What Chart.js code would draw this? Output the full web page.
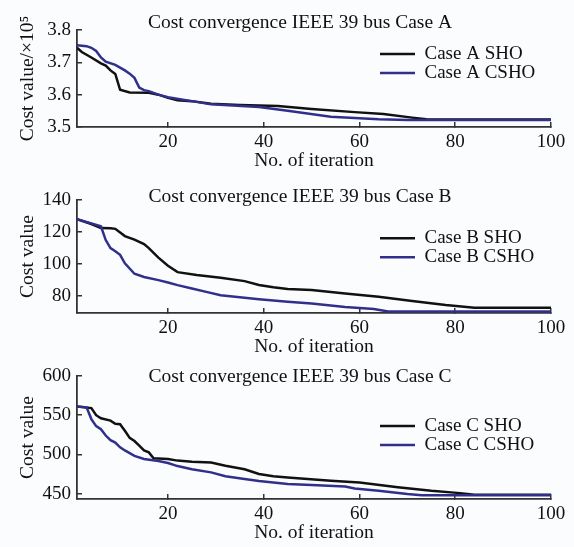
<!DOCTYPE html>
<html><head><meta charset="utf-8">
<script src="https://cdn.jsdelivr.net/npm/chart.js@4.4.1/dist/chart.umd.min.js"></script>
<style>
html,body{margin:0;padding:0;width:574px;height:547px;overflow:hidden;background:#fbfcfe;}
canvas{position:absolute;left:0;}
</style></head><body>
<canvas id="cA" width="600" height="182" style="top:0px"></canvas>
<canvas id="cB" width="600" height="194" style="top:170px"></canvas>
<canvas id="cC" width="600" height="201" style="top:346px"></canvas>
<script>
// ---- data ----
const xTickValues = [20, 40, 60, 80, 100];

const yTicksA = [3.5, 3.6, 3.7, 3.8];
const aShoIter = [1, 2, 4, 6, 7, 8, 9, 10, 12, 16, 18, 20, 22, 25, 29, 35, 43, 50, 59, 65, 71, 74, 78, 100];
const aShoCost = [3.745, 3.732, 3.715, 3.697, 3.690, 3.675, 3.664, 3.615, 3.607, 3.606, 3.600, 3.590, 3.583, 3.580, 3.572, 3.568, 3.565, 3.556, 3.546, 3.540, 3.529, 3.524, 3.523, 3.523];
const aCshoIter = [1, 3, 4, 5, 6, 7, 9, 11, 12, 13, 14, 15, 16, 18, 20, 25, 29, 39, 45, 54, 64, 70, 100];
const aCshoCost = [3.753, 3.750, 3.745, 3.735, 3.715, 3.702, 3.692, 3.675, 3.665, 3.652, 3.622, 3.614, 3.611, 3.600, 3.592, 3.580, 3.570, 3.562, 3.550, 3.532, 3.524, 3.522, 3.522];

const yTicksB = [80, 100, 120, 140];
const bShoIter = [1, 4, 6, 8, 9, 11, 13, 15, 16, 18, 20, 22, 26, 31, 36, 39, 42, 45, 50, 57, 64, 71, 78, 84, 100];
const bShoCost = [128, 125, 122.5, 122.3, 122, 117.5, 115.3, 112.5, 110, 104, 99, 95, 93.2, 91.5, 89.4, 87, 85.5, 84.5, 83.8, 81.7, 79.6, 77, 74.5, 72.8, 72.8];
const bCshoIter = [1, 4, 6, 7, 8, 9, 10, 11, 13, 15, 18, 20, 22, 25, 28, 31, 34, 39, 45, 50, 57, 63, 66, 100];
const bCshoCost = [128, 125.4, 123.6, 115, 110, 108, 105.8, 100.5, 94, 92, 90, 88.5, 86.9, 84.8, 82.7, 80.6, 79.6, 78.1, 76.5, 75.4, 73.3, 72, 70.5, 70.5];

const yTicksC = [450, 500, 550, 600];
const cShoIter = [1, 4, 5, 6, 8, 9, 10, 11, 12, 13, 14, 15, 16, 17, 20, 22, 25, 29, 32, 36, 39, 42, 45, 54, 60, 68, 75, 81, 84, 100];
const cShoCost = [561, 559, 550, 546, 543, 539, 538.5, 530, 521, 517, 511, 505, 502.5, 495, 494, 492, 490.5, 489.5, 485.5, 481, 475, 472, 470.5, 466.3, 464, 458, 453.5, 450.5, 448.5, 448.5];
const cCshoIter = [1, 3, 4, 5, 6, 7, 8, 9, 10, 11, 13, 15, 18, 20, 22, 25, 29, 32, 36, 39, 45, 50, 57, 59, 64, 70, 73, 100];
const cCshoCost = [561, 560, 545, 536, 532, 524, 518, 515, 509, 505, 498, 494, 491.5, 489, 485, 481, 477, 472, 468.5, 466, 462, 461, 459, 456.5, 453.5, 449.3, 447.8, 447.8];

// ---- styling / layout ----
const FONT = '"Liberation Serif", "Times New Roman", serif';
Chart.defaults.font.family = FONT;
Chart.defaults.color = '#111';
const axisColor = '#333';
const shoColor = '#111111';
const cshoColor = '#30308c';

const toPoints = (xs, ys) => xs.map((x, i) => ({x: x, y: ys[i]}));

const placeBoxes = {
  id: 'placeBoxes',
  afterLayout(chart, args, opts) {
    const t = chart.titleBlock;
    if (t) {
      const lh = t.height;
      t.left = opts.titleX - 250; t.right = opts.titleX + 250; t.width = 500;
      t.top = opts.titleY - lh / 2; t.bottom = t.top + lh;
    }
    const lg = chart.legend;
    if (lg) {
      lg.left = opts.legendX; lg.top = opts.legendY;
      lg.width = 200; lg.height = 90;
      lg.right = lg.left + 200; lg.bottom = lg.top + 90;
    }
  }
};

const panels = [
  {id: 'cA', title: 'Cost convergence IEEE 39 bus Case A', yTitle: 'Cost value/×10⁵',
   yMin: 3.5, yMax: 3.8, yTicks: yTicksA, fmt: v => v.toFixed(1),
   names: ['Case A SHO', 'Case A CSHO'], sho: [aShoIter, aShoCost], csho: [aCshoIter, aCshoCost],
   padBottom: 9, titleY: 23, legendY: 44.5},
  {id: 'cB', title: 'Cost convergence IEEE 39 bus Case B', yTitle: 'Cost value',
   yMin: 69.5, yMax: 140, yTicks: yTicksB, fmt: v => String(v),
   names: ['Case B SHO', 'Case B CSHO'], sho: [bShoIter, bShoCost], csho: [bCshoIter, bCshoCost],
   padBottom: 5, titleY: 27, legendY: 58.8},
  {id: 'cC', title: 'Cost convergence IEEE 39 bus Case C', yTitle: 'Cost value',
   yMin: 443, yMax: 600, yTicks: yTicksC, fmt: v => String(v),
   names: ['Case C SHO', 'Case C CSHO'], sho: [cShoIter, cShoCost], csho: [cCshoIter, cCshoCost],
   padBottom: 2, titleY: 31, legendY: 70.5}
];

const gridOpts = {display: true, drawOnChartArea: false, drawTicks: true, tickLength: -5, color: axisColor, lineWidth: 1.5};
const borderOpts = {display: true, color: axisColor, width: 1.8};

panels.forEach(p => {
  new Chart(document.getElementById(p.id), {
    type: 'line',
    data: {
      datasets: [
        {label: p.names[0], data: toPoints(p.sho[0], p.sho[1]), borderColor: shoColor, backgroundColor: shoColor,
         borderWidth: 2.5, pointBorderWidth: 2.5, pointRadius: 0, tension: 0, fill: false, order: 2},
        {label: p.names[1], data: toPoints(p.csho[0], p.csho[1]), borderColor: cshoColor, backgroundColor: cshoColor,
         borderWidth: 2.5, pointBorderWidth: 2.5, pointRadius: 0, tension: 0, fill: false, order: 1}
      ]
    },
    options: {
      responsive: false, animation: false, devicePixelRatio: 1,
      layout: {padding: {left: 0, right: 49, top: 6.6, bottom: p.padBottom}},
      plugins: {
        title: {display: true, text: p.title, color: '#111', font: {size: 19.5, weight: 'normal', lineHeight: 1.2}, padding: 0},
        legend: {
          display: true, position: 'chartArea', align: 'start',
          labels: {usePointStyle: true, pointStyle: 'line', pointStyleWidth: 35, padding: 0,
                   color: '#111', font: {size: 19},
                   sort: (a, b) => a.datasetIndex - b.datasetIndex}
        },
        tooltip: {enabled: false},
        placeBoxes: {titleX: 300, titleY: p.titleY, legendX: 380, legendY: p.legendY}
      },
      scales: {
        x: {
          type: 'linear', min: 1, max: 100,
          afterBuildTicks: s => { s.ticks = xTickValues.map(v => ({value: v})); },
          afterFit: s => { s.height = 46; },
          grid: gridOpts, border: borderOpts,
          ticks: {padding: 9, color: '#111', font: {size: 19}, maxRotation: 0, autoSkip: false},
          title: {display: true, text: 'No. of iteration', color: '#111', font: {size: 19.5, lineHeight: 1.2}, padding: {top: 0, bottom: 0}}
        },
        y: {
          type: 'linear', min: p.yMin, max: p.yMax,
          afterBuildTicks: s => { s.ticks = p.yTicks.map(v => ({value: v})); },
          afterFit: s => { s.width = 77; },
          grid: gridOpts, border: borderOpts,
          ticks: {padding: 11, color: '#111', font: {size: 19}, callback: p.fmt},
          title: {display: true, text: p.yTitle, color: '#111', font: {size: 19.5, lineHeight: 1.2}, padding: {top: 16, bottom: 0}}
        }
      }
    },
    plugins: [placeBoxes]
  });
});
</script>
</body></html>
